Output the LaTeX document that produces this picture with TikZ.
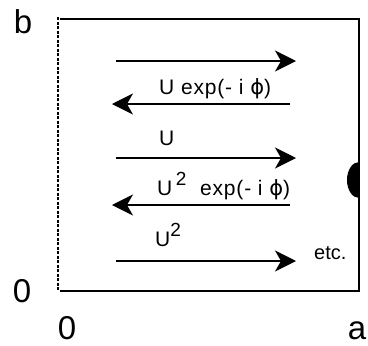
\documentclass[tikz,border=0pt]{standalone}
\usepackage{fontspec}
\setmainfont{Liberation Sans}
\newfontfamily\phifont{DejaVu Sans}
\usetikzlibrary{arrows.meta}
\begin{document}
\begin{tikzpicture}[x=1pt,y=-1pt,
  frame/.style={line width=1.1pt},
  beam/.style={line width=1.3pt,-{Stealth[length=21pt,width=21pt,inset=6pt]}},
  lbl/.style={inner sep=0pt,anchor=base,font=\fontsize{21}{23}\selectfont\addfontfeature{LetterSpace=4}},
  axis/.style={inner sep=0pt,anchor=base,font=\fontsize{33}{35}\selectfont}]
\useasboundingbox (0,0) rectangle (368,346);
% frame
\coordinate (tl) at (60,19);
\coordinate (tr) at (359,19);
\coordinate (br) at (359,291);
\coordinate (bl) at (60,291);
\coordinate (dtop) at (58,17);
\coordinate (dbot) at (58,291);
\draw[frame] (tl) -- (tr) -- (br) -- (bl);
\draw[line width=1.2pt,dash pattern=on 3pt off 1.5pt] (dtop) -- (dbot);
% half disc
\fill (359,198) arc[start angle=90,end angle=270,x radius=12,y radius=18] -- cycle;
% arrows
\coordinate (a1s) at (116,61);  \coordinate (a1e) at (296,61);
\coordinate (a2s) at (290,104); \coordinate (a2e) at (112,104);
\coordinate (a3s) at (116,158); \coordinate (a3e) at (296,158);
\coordinate (a4s) at (290,205); \coordinate (a4e) at (112,205);
\coordinate (a5s) at (116,261); \coordinate (a5e) at (296,261);
\draw[beam] (a1s) -- (a1e);
\draw[beam] (a2s) -- (a2e);
\draw[beam] (a3s) -- (a3e);
\draw[beam] (a4s) -- (a4e);
\draw[beam] (a5s) -- (a5e);
% labels
\node[lbl,anchor=base west] (l1) at (159,94) {U exp(- i {\phifont ϕ})};
\node[lbl,anchor=base west] (l2) at (159,145) {U};
\node[lbl,anchor=base west] (l3) at (157,195) {U\,\raisebox{10pt}{\fontsize{19}{21}\selectfont 2}\,\, exp(- i {\phifont ϕ})};
\node[lbl,anchor=base west] (l4) at (155,246) {U\raisebox{10pt}{\fontsize{19}{21}\selectfont 2}};
\node[lbl,anchor=base west,font=\fontsize{20}{22}\selectfont] (l5) at (314,259) {etc.};
% axis labels
\node[axis] (b) at (23,33) {b};
\node[axis] (z1) at (22,302) {0};
\node[axis] (z2) at (67,339) {0};
\node[axis] (a) at (357,339) {a};
\end{tikzpicture}
\end{document}
